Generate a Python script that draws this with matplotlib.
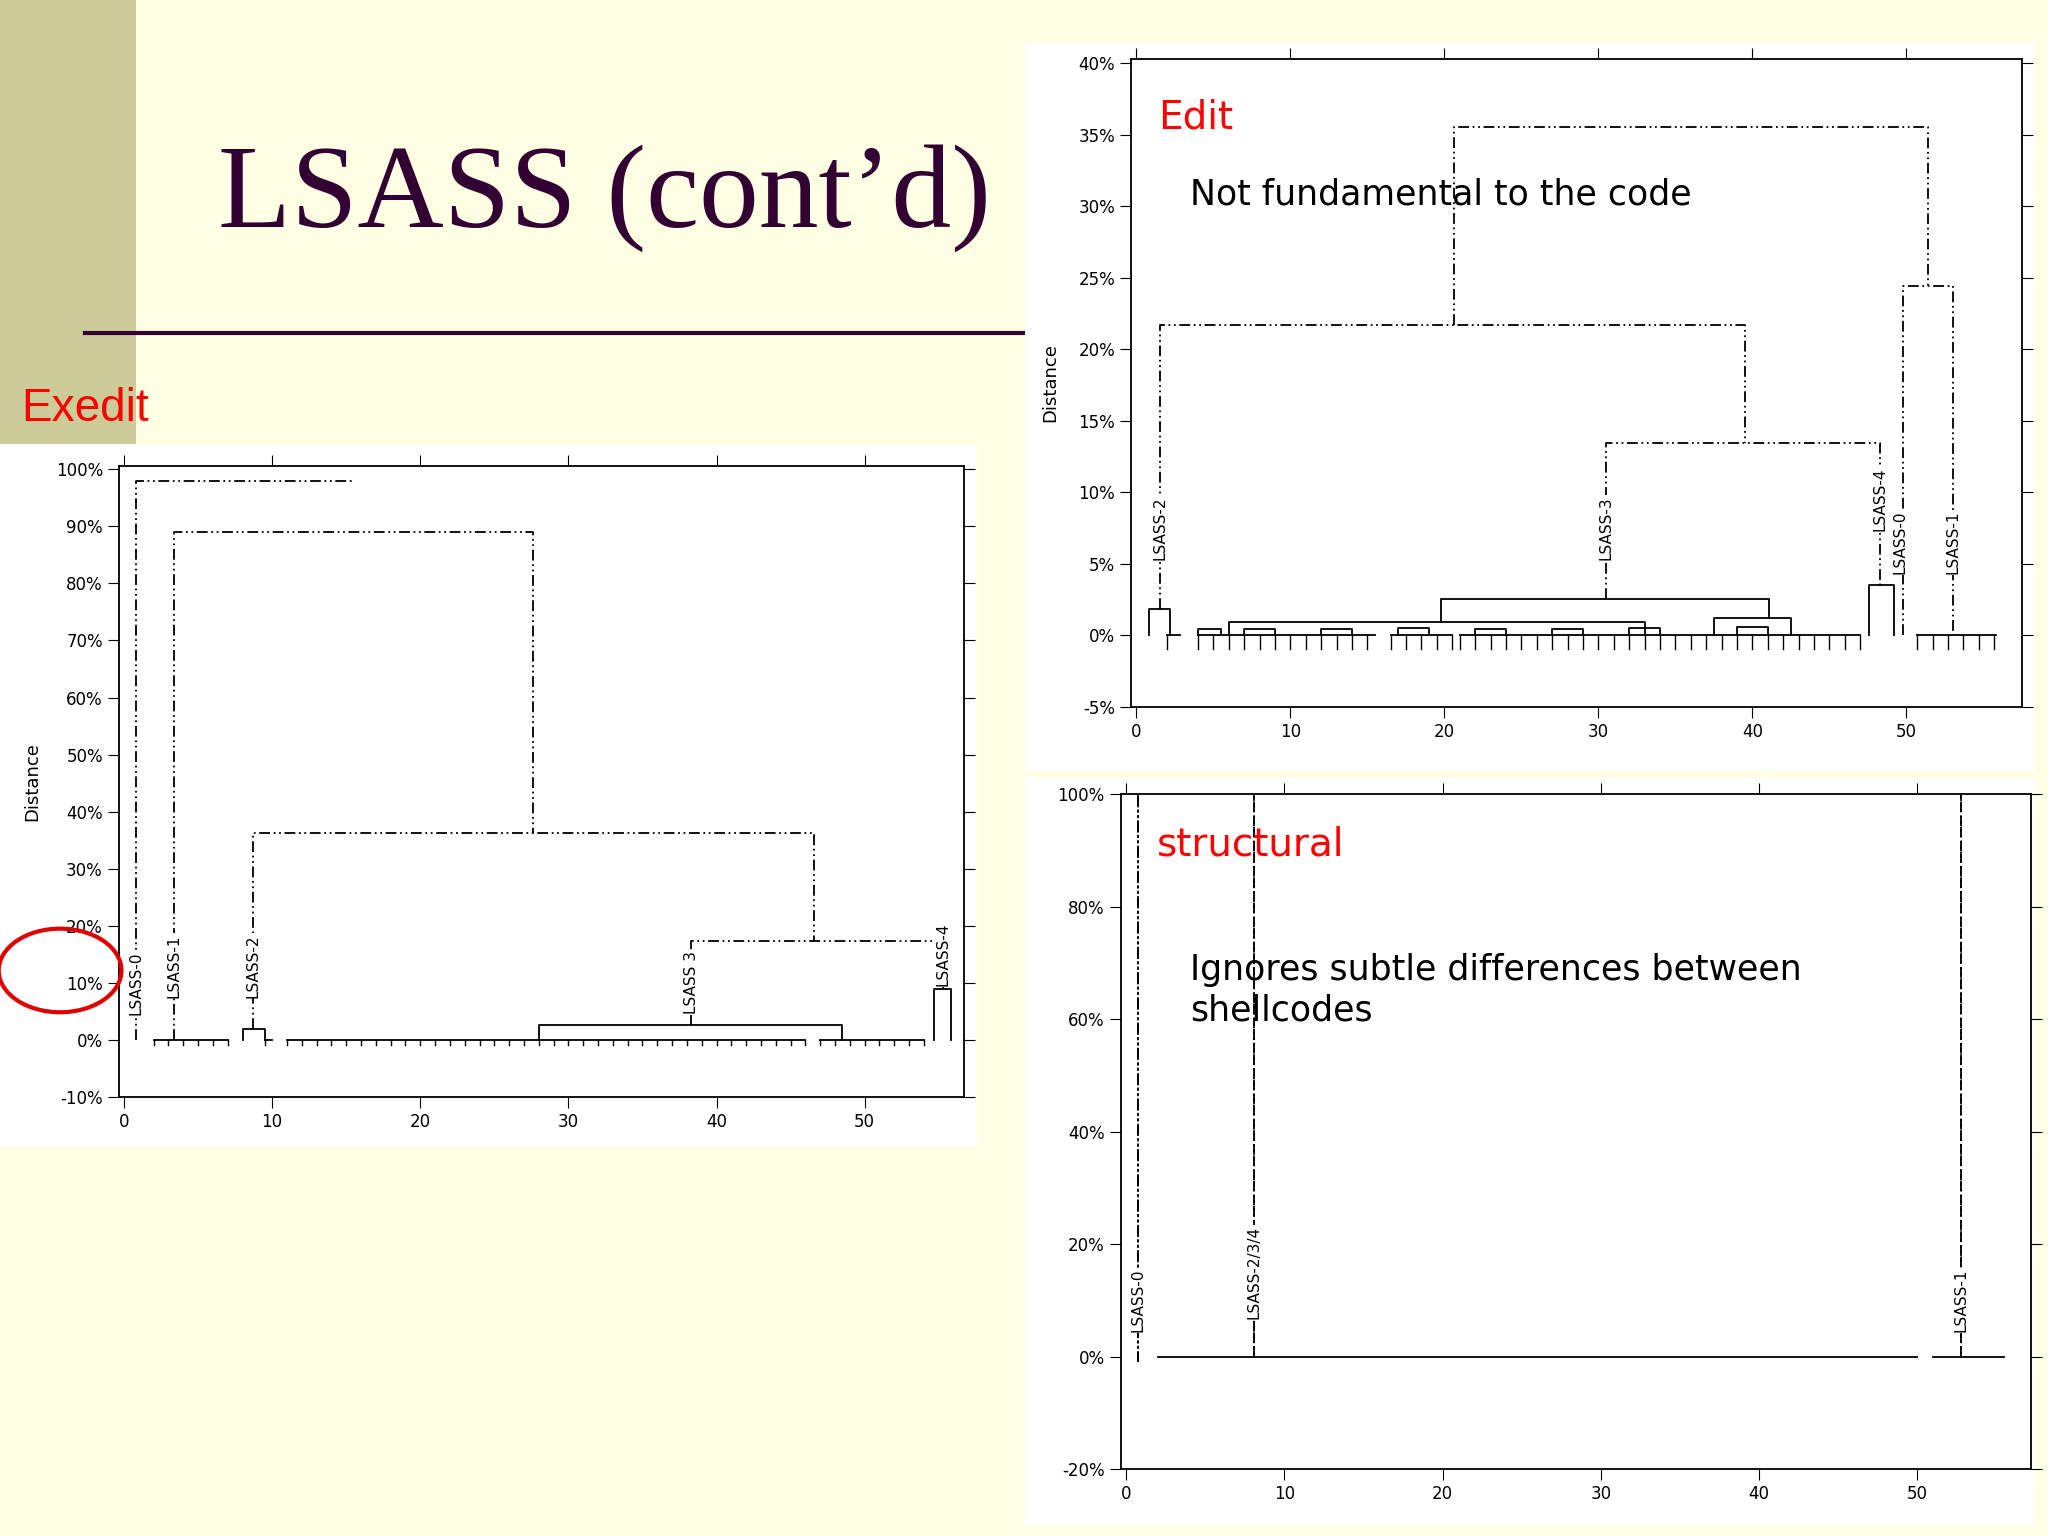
import matplotlib
matplotlib.use("Agg")
import matplotlib.pyplot as plt
from matplotlib.patches import Rectangle, Ellipse
import numpy as np

W, H = 1568, 1176
# ---------------- data ----------------
ex_xl = [0.8, 3.4, 8.7, 38.3, 28.0, 8.0, 54.7]
ex_xr = [15.5, 27.6, 46.6, 55.3, 48.5, 9.5, 55.8]
ex_h = [98, 89, 36.3, 17.4, 2.7, 2.0, 9.0]
ex_bl = [0, 0, 2.0, 2.7, 0, 0, 0]
ex_br = [98, 36.3, 17.4, 9.0, 0, 0, 0]
ex_solid = [0, 0, 0, 0, 1, 1, 1]
ex_leaf_groups = [(2, 7), (9.5, 10), (11, 46), (47, 54)]
ex_labels = ["LSASS-0", "LSASS-1", "LSASS-2", "LSASS 3", "LSASS-4"]
ex_label_x = [0.8, 3.4, 8.7, 38.3, 55.3]
ex_label_y = [10, 13, 13, 10, 15]

ed_xl = [20.6, 1.5, 30.5, 49.8, 0.8, 19.8, 47.6, 6.0, 37.5, 4.0, 7.0, 12.0, 17.0, 22.0, 27.0, 32.0, 39.0]
ed_xr = [51.4, 39.5, 48.3, 53.0, 2.2, 41.1, 49.2, 33.0, 42.5, 5.5, 9.0, 14.0, 19.0, 24.0, 29.0, 34.0, 41.0]
ed_h = [35.5, 21.7, 13.4, 24.4, 1.8, 2.5, 3.5, 0.9, 1.2, 0.4, 0.4, 0.4, 0.5, 0.4, 0.4, 0.5, 0.6]
ed_bl = [21.7, 1.8, 2.5, 0, 0, 0.9, 0, 0, 0, 0, 0, 0, 0, 0, 0, 0, 0]
ed_br = [24.4, 13.4, 3.5, 0, 0, 1.2, 0, 0, 0, 0, 0, 0, 0, 0, 0, 0, 0]
ed_solid = [0, 0, 0, 0, 1, 1, 1, 1, 1, 1, 1, 1, 1, 1, 1, 1, 1]
ed_leaf_groups = [(2, 2.8), (4, 15.5), (16.5, 20.5), (21, 47), (50.7, 55.8)]
ed_labels = ["LSASS-2", "LSASS-3", "LSASS-4", "LSASS-0", "LSASS-1"]
ed_label_x = [1.5, 30.5, 48.3, 49.6, 53.0]
ed_label_y = [7.5, 7.5, 9.5, 6.5, 6.5]

st_xl = [0.75, 8.1, 52.8]
st_xr = [0.75, 8.1, 52.8]
st_h = [110, 110, 110]
st_bl = [-1, 0, 0]
st_br = [-1, 0, 0]
st_solid = [0, 0, 0]
st_leaf_groups = [(2, 50), (51, 55.5)]
st_labels = ["LSASS-0", "LSASS-2/3/4", "LSASS-1"]
st_label_x = [0.75, 8.1, 52.8]
st_label_y = [10, 15, 10]

# ---------------- figure ----------------
fig = plt.figure(figsize=(20.48, 15.36), dpi=100)
fig.patch.set_facecolor("#FFFFE3")

def fx(x): return x / W
def fy(y): return 1 - y / H

fig.patches.append(Rectangle((0, fy(340)), fx(104), 340 / H, transform=fig.transFigure,
                             facecolor="#CCCC99", edgecolor="none", zorder=-2))
fig.lines.append(plt.Line2D([fx(65), fx(785)], [fy(255), fy(255)], transform=fig.transFigure,
                            color="#330033", lw=3, zorder=-1))
fig.text(fx(463), fy(152), "LSASS (cont\u2019d)", family="Liberation Serif", fontsize=86,
         color="#330033", ha="center", va="center")
fig.text(fx(16), fy(313), "Exedit", color="red", fontsize=33, va="center", family="Liberation Sans")

for (x0, y0, x1, y1) in [(0, 340, 748, 878), (785, 33, 1558, 590), (785, 595, 1558, 1168)]:
    fig.patches.append(Rectangle((fx(x0), fy(y1)), fx(x1 - x0), (y1 - y0) / H,
                                 transform=fig.transFigure, facecolor="white", edgecolor="none", zorder=-1))

def make_ax(x0, y0, x1, y1):
    return fig.add_axes([fx(x0), fy(y1), fx(x1 - x0), (y1 - y0) / H])

DD = (0, (6, 2, 1, 2, 1, 2))

def draw(ax, xl, xr, h, bl, br, solid, groups, labels, lx, ly, tickdrop):
    for a, b, hh, p, q, s in zip(xl, xr, h, bl, br, solid):
        st = "-" if s else DD
        ax.plot([a, a, b, b], [p, hh, hh, q], color="black", lw=1.3, ls=st, zorder=2)
    for a, b in groups:
        ax.plot([a, b], [0, 0], color="black", lw=1.3, zorder=2)
        for t in np.arange(a, b + 0.01, 1.0):
            ax.plot([t, t], [0, -tickdrop], color="black", lw=1.0, zorder=2)
    for t, x, y in zip(labels, lx, ly):
        ax.text(x, y, t, rotation=90, ha="center", va="center", fontsize=11,
                bbox=dict(facecolor="white", edgecolor="none", pad=0.5), zorder=3)

def style(ax, yt, xt, ylim, xlim):
    ax.set_xlim(*xlim)
    ax.set_ylim(*ylim)
    ax.set_yticks(yt)
    ax.set_yticklabels([f"{v}%" for v in yt], fontsize=12)
    ax.set_xticks(xt)
    ax.set_xticklabels([str(v) for v in xt], fontsize=12)
    ax.tick_params(top=True, right=True, direction="out", length=8)
    ax.tick_params(axis="x", top=True, labeltop=False)
    ax.set_facecolor("white")
    for s in ax.spines.values():
        s.set_linewidth(1.3)

# Exedit
ax1 = make_ax(91, 357, 738, 840)
draw(ax1, ex_xl, ex_xr, ex_h, ex_bl, ex_br, ex_solid, ex_leaf_groups, ex_labels, ex_label_x, ex_label_y, 0.8)
style(ax1, list(range(-10, 101, 10)), list(range(0, 51, 10)), (-10, 100.5), (-0.35, 56.7))
ax1.set_ylabel("Distance", fontsize=13, labelpad=10)

# Edit
ax2 = make_ax(866, 45, 1548, 541)
draw(ax2, ed_xl, ed_xr, ed_h, ed_bl, ed_br, ed_solid, ed_leaf_groups, ed_labels, ed_label_x, ed_label_y, 1.0)
style(ax2, list(range(-5, 41, 5)), list(range(0, 51, 10)), (-5, 40.3), (-0.35, 57.5))
ax2.set_ylabel("Distance", fontsize=13, labelpad=14)
ax2.text(0.03, 0.91, "Edit", transform=ax2.transAxes, color="red", fontsize=28, va="center")
ax2.text(0.066, 0.79, "Not fundamental to the code", transform=ax2.transAxes, fontsize=25, va="center")

# structural
ax3 = make_ax(858, 608, 1555, 1125)
draw(ax3, st_xl, st_xr, st_h, st_bl, st_br, st_solid, st_leaf_groups, st_labels, st_label_x, st_label_y, 0)
style(ax3, list(range(-20, 101, 20)), list(range(0, 51, 10)), (-20, 100), (-0.35, 57.2))
ax3.text(0.04, 0.925, "structural", transform=ax3.transAxes, color="red", fontsize=28, va="center")
ax3.text(0.076, 0.765, "Ignores subtle differences between\nshellcodes", transform=ax3.transAxes,
         fontsize=25, va="top", linespacing=1.25)

fig.patches.append(Ellipse((fx(46), fy(743)), fx(94), 64 / H, transform=fig.transFigure,
                           facecolor="none", edgecolor="#E00000", lw=3, zorder=5))

fig.savefig("out.png", dpi=100)
